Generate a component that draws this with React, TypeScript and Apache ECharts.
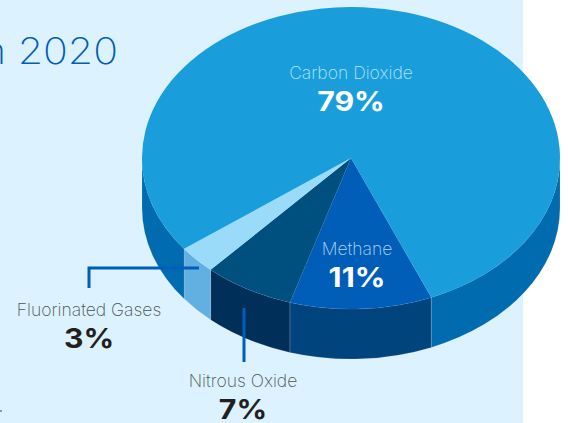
import React, { useEffect, useRef } from "react";
import * as echarts from "echarts";

// Greenhouse gas shares, in percent, in drawing order going clockwise.
const gasNames = ["Methane", "Nitrous Oxide", "Fluorinated Gases", "Carbon Dioxide"];
const gasShares = [11, 7, 3, 79];
const topColors = ["#005EB8", "#00507F", "#9BDBFA", "#1A9EDB"];
const wallColors = ["#00447E", "#00305A", "#62AFE1", "#006BAE"];
const nameColors = ["#B4D6F4", "#4E5256", "#4E5256", "#B8E4F9"];
const shareColors = ["#FFFFFF", "#231F20", "#231F20", "#FFFFFF"];
const labelCenters = [
  [357, 248],
  [243, 380],
  [89, 309],
  [351, 72],
];
const titleText = "n 2020";

// Disc geometry: an ellipse extruded downward.
const CX = 351;
const CY = 158;
const RX = 209;
const RY = 151;
const DEPTH = 50;
const START_DEG = 67.4;
const FONT = "Inter, 'Noto Sans', sans-serif";

const total = gasShares.reduce((a, b) => a + b, 0);

const pt = (deg: number, dy = 0) => {
  const r = (deg * Math.PI) / 180;
  return [CX + RX * Math.cos(r), CY + dy + RY * Math.sin(r)];
};

const topPath = (a: number, b: number) => {
  const p0 = pt(a);
  const p1 = pt(b);
  const large = b - a > 180 ? 1 : 0;
  return `M${CX} ${CY}L${p0[0]} ${p0[1]}A${RX} ${RY} 0 ${large} 1 ${p1[0]} ${p1[1]}Z`;
};

const wallPath = (a: number, b: number) => {
  const p0 = pt(a);
  const p1 = pt(b);
  const q1 = pt(b, DEPTH);
  const q0 = pt(a, DEPTH);
  return (
    `M${p0[0]} ${p0[1]}A${RX} ${RY} 0 0 1 ${p1[0]} ${p1[1]}` +
    `L${q1[0]} ${q1[1]}A${RX} ${RY} 0 0 0 ${q0[0]} ${q0[1]}Z`
  );
};

// Only the parts of a slice in the near half of the disc (0..180 or 360..540) show a wall.
const wallRanges = (a: number, b: number) => {
  const out: [number, number][] = [];
  for (const [lo, hi] of [
    [0, 180],
    [360, 540],
  ]) {
    const s = Math.max(a, lo);
    const e = Math.min(b, hi);
    if (e > s) out.push([s, e]);
  }
  return out;
};

const renderSlice = (params: any, api: any) => {
  const i = params.dataIndex;
  let before = 0;
  for (let k = 0; k < i; k++) before += gasShares[k];
  const a = START_DEG + (before / total) * 360;
  const b = a + (api.value(1) / total) * 360;
  const children: any[] = wallRanges(a, b).map(([s, e]) => ({
    type: "path",
    shape: { pathData: wallPath(s, e) },
    style: { fill: wallColors[i], stroke: "rgba(255,255,255,0.22)", lineWidth: 0.6 },
  }));
  children.push({
    type: "path",
    shape: { pathData: topPath(a, b) },
    style: { fill: topColors[i] },
  });
  return { type: "group", children };
};

// The display face runs wider than the installed fonts, so texts are stretched horizontally.
const sliceLabels = gasNames.flatMap((name, i) => [
  {
    type: "text",
    z: 20,
    x: labelCenters[i][0],
    y: labelCenters[i][1],
    style: {
      text: name,
      x: 0,
      y: 0,
      align: "center",
      verticalAlign: "middle",
      font: `200 17.5px ${FONT}`,
      fill: nameColors[i],
    },
  },
  {
    type: "text",
    z: 20,
    x: labelCenters[i][0],
    y: labelCenters[i][1] + 29.5,
    scaleX: 1.12,
    style: {
      text: `${gasShares[i]}%`,
      x: 0,
      y: 0,
      align: "center",
      verticalAlign: "middle",
      font: `700 27px ${FONT}`,
      fill: shareColors[i],
    },
  },
]);

export default function App() {
  const ref = useRef<HTMLDivElement>(null);
  useEffect(() => {
    const chart = echarts.init(ref.current!, null, { renderer: "svg" });
    chart.setOption({
      animation: false,
      backgroundColor: "#FFFFFF",
      graphic: [
        { type: "rect", z: -5, shape: { x: 0, y: 0, width: 523, height: 423 }, style: { fill: "#DCF2FE" } },
        {
          type: "text",
          z: 20,
          x: 118,
          y: 50,
          scaleX: 1.11,
          style: {
            text: titleText,
            x: 0,
            y: 0,
            align: "right",
            verticalAlign: "middle",
            font: `200 37px ${FONT}`,
            fill: "#005EB8",
          },
        },
        {
          type: "polyline",
          z: 15,
          shape: { points: [[89, 288], [89, 268], [199, 268]] },
          style: { stroke: "#005EB8", lineWidth: 3, fill: "none" },
        },
        {
          type: "line",
          z: 15,
          shape: { x1: 244, y1: 308, x2: 244, y2: 362 },
          style: { stroke: "#005EB8", lineWidth: 3 },
        },
        {
          type: "line",
          z: 15,
          shape: { x1: 0, y1: 411, x2: 2, y2: 411 },
          style: { stroke: "#444444", lineWidth: 1 },
        },
        ...sliceLabels,
      ],
      series: [
        {
          type: "custom",
          coordinateSystem: "none",
          clip: false,
          renderItem: renderSlice,
          data: gasNames.map((name, i) => [name, gasShares[i]]),
        },
      ],
    });
    return () => chart.dispose();
  }, []);
  return <div ref={ref} style={{ position: "absolute", left: 0, top: 0, width: 568, height: 423 }} />;
}
